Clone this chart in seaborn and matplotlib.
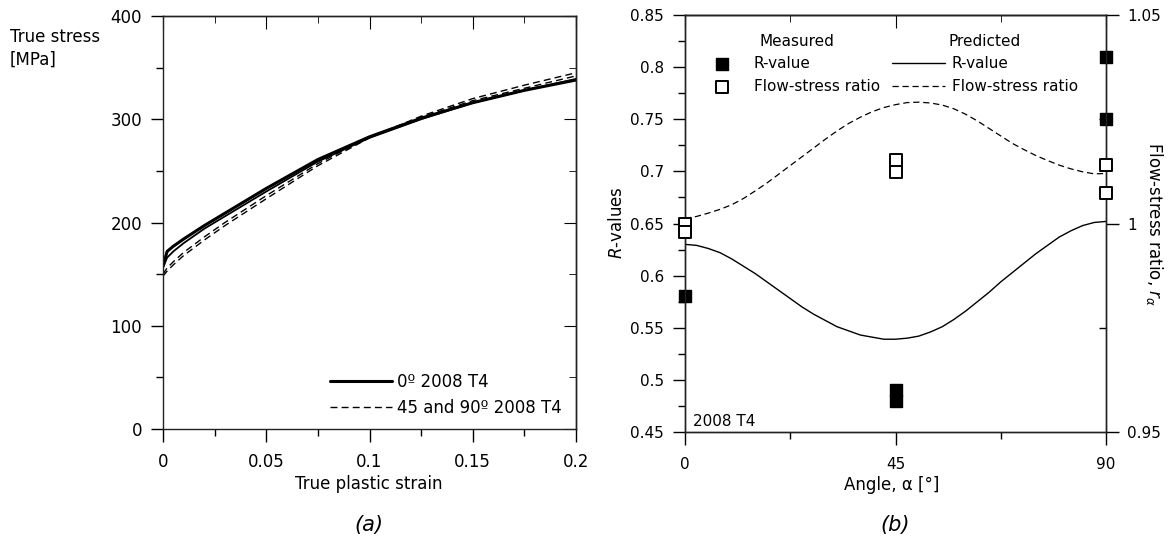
import matplotlib
matplotlib.use("Agg")
import matplotlib.pyplot as plt
import seaborn as sns
from matplotlib.ticker import MultipleLocator, FuncFormatter, NullFormatter

# (a) stress-strain curves
strain = [0, 0.002, 0.005, 0.01, 0.02, 0.03, 0.04, 0.05, 0.075, 0.1, 0.125, 0.15, 0.175, 0.2]
stress_0_a = [158, 172, 177, 184, 197, 209, 221, 233, 261, 283, 301, 316, 328, 338]
stress_0_b = [156, 166, 172, 180, 194, 206, 218, 230, 259, 282, 300, 316, 328, 339]
stress_45 = [148, 153, 159, 168, 183, 197, 210, 223, 255, 282, 303, 320, 333, 345]
stress_90 = [150, 156, 162, 171, 186, 200, 213, 226, 257, 283, 302, 318, 330, 342]

# (b) anisotropy
angles = [0, 2.5, 5, 7.5, 10, 12.5, 15, 17.5, 20, 22.5, 25, 27.5, 30, 32.5, 35, 37.5, 40, 42.5, 45,
          47.5, 50, 52.5, 55, 57.5, 60, 62.5, 65, 67.5, 70, 72.5, 75, 77.5, 80, 82.5, 85, 87.5, 90]
r_pred = [0.630, 0.629, 0.626, 0.622, 0.616, 0.609, 0.602, 0.594, 0.586, 0.578, 0.570, 0.563,
          0.557, 0.551, 0.547, 0.543, 0.541, 0.539, 0.539, 0.540, 0.542, 0.546, 0.551, 0.558,
          0.566, 0.575, 0.584, 0.594, 0.603, 0.612, 0.621, 0.629, 0.637, 0.643, 0.648, 0.651, 0.652]
flow_pred = [1.0012, 1.0017, 1.0025, 1.0034, 1.0045, 1.0060, 1.0078, 1.0097, 1.0118, 1.0139,
             1.0160, 1.0181, 1.0202, 1.0222, 1.0240, 1.0255, 1.0268, 1.0278, 1.0285, 1.0290,
             1.0291, 1.0289, 1.0284, 1.0275, 1.0262, 1.0246, 1.0228, 1.0210, 1.0192, 1.0177,
             1.0163, 1.0151, 1.0140, 1.0131, 1.0124, 1.0119, 1.0120]
meas_angle_r = [0, 45, 45, 90, 90]
meas_r = [0.58, 0.49, 0.48, 0.81, 0.75]
meas_angle_f = [0, 0, 45, 45, 90, 90]
meas_f = [1.0000, 0.9980, 1.0152, 1.0124, 1.0141, 1.0073]

sns.set_style("ticks")
plt.rcParams["font.family"] = ["DejaVu Sans"]
plt.rcParams["axes.linewidth"] = 1.0
plt.rcParams["axes.edgecolor"] = "#222222"
plt.rcParams["text.color"] = "black"
plt.rcParams["xtick.color"] = "black"
plt.rcParams["ytick.color"] = "black"
plt.rcParams["axes.labelcolor"] = "black"

W, H = 1169, 543
fig = plt.figure(figsize=(W / 100, H / 100), dpi=100)

def box(x0, y0, x1, y1):
    return [x0 / W, 1 - y1 / H, (x1 - x0) / W, (y1 - y0) / H]

fmt = FuncFormatter(lambda v, p: f"{v:g}")

# ---------------- panel (a) ----------------
ax1 = fig.add_axes(box(163, 16, 576, 429))
sns.lineplot(x=strain, y=stress_0_a, ax=ax1, color="black", lw=2.2, label="0º 2008 T4", legend=False)
sns.lineplot(x=strain, y=stress_0_b, ax=ax1, color="black", lw=1.3, legend=False)
sns.lineplot(x=strain, y=stress_45, ax=ax1, color="black", lw=1.0, linestyle=(0, (5, 3)),
             label="45 and 90º 2008 T4", legend=False)
sns.lineplot(x=strain, y=stress_90, ax=ax1, color="black", lw=1.0, linestyle=(0, (5, 3)), legend=False)
ax1.set_xlim(0, 0.2)
ax1.set_ylim(0, 400)
ax1.xaxis.set_major_locator(MultipleLocator(0.05))
ax1.xaxis.set_minor_locator(MultipleLocator(0.025))
ax1.yaxis.set_major_locator(MultipleLocator(100))
ax1.yaxis.set_minor_locator(MultipleLocator(50))
ax1.xaxis.set_major_formatter(fmt)
ax1.yaxis.set_major_formatter(fmt)
ax1.tick_params(which="major", direction="out", length=9, width=1, labelsize=12, pad=6)
ax1.tick_params(which="minor", direction="out", length=5, width=1)
ax1.tick_params(axis="x", pad=8)
ax1.set_xlabel("")
ax1.set_ylabel("")

top1 = ax1.secondary_xaxis("top")
top1.xaxis.set_major_locator(MultipleLocator(0.05))
top1.xaxis.set_minor_locator(MultipleLocator(0.025))
top1.xaxis.set_major_formatter(NullFormatter())
top1.tick_params(which="major", direction="in", length=9)
top1.tick_params(which="minor", direction="in", length=5)
right1 = ax1.secondary_yaxis("right")
right1.yaxis.set_major_locator(MultipleLocator(100))
right1.yaxis.set_minor_locator(MultipleLocator(50))
right1.yaxis.set_major_formatter(NullFormatter())
right1.tick_params(which="major", direction="in", length=9)
right1.tick_params(which="minor", direction="in", length=5)

h1, l1 = ax1.get_legend_handles_labels()
ax1.legend(h1, l1, loc="lower right", bbox_to_anchor=(0.965, 0.03), frameon=False,
           fontsize=12, handlelength=3.7, handletextpad=0.3, borderpad=0, borderaxespad=0,
           labelspacing=0.45)

fig.text(10 / W, 1 - 28 / H, "True stress\n[MPa]", ha="left", va="top", fontsize=12, linespacing=1.35)
fig.text(369 / W, 1 - 484 / H, "True plastic strain", ha="center", va="center", fontsize=12)
fig.text(369 / W, 1 - 525 / H, "(a)", ha="center", va="center", fontsize=15, style="italic")

# ---------------- panel (b) ----------------
ax = fig.add_axes(box(685, 15, 1106, 432))
ax2 = ax.twinx()
sns.lineplot(x=angles, y=r_pred, ax=ax, color="black", lw=1.0, label="R-value", legend=False)
sns.scatterplot(x=meas_angle_r, y=meas_r, ax=ax, marker="s", s=75, color="black",
                edgecolor="black", linewidth=1, clip_on=False, zorder=5, label="R-value", legend=False)
sns.lineplot(x=angles, y=flow_pred, ax=ax2, color="black", lw=0.9, linestyle=(0, (5, 3)),
             label="Flow-stress ratio", legend=False)
sns.scatterplot(x=meas_angle_f, y=meas_f, ax=ax2, marker="s", s=70, facecolor="white",
                edgecolor="black", linewidth=1.4, clip_on=False, zorder=5,
                label="Flow-stress ratio", legend=False)

ax.set_xlim(0, 90)
ax.set_ylim(0.45, 0.85)
ax2.set_ylim(0.95, 1.05)
ax.set_xticks([0, 45, 90])
ax.xaxis.set_minor_locator(MultipleLocator(22.5))
ax.yaxis.set_major_locator(MultipleLocator(0.05))
ax.yaxis.set_minor_locator(MultipleLocator(0.025))
ax.yaxis.set_major_formatter(fmt)
ax2.yaxis.set_major_locator(MultipleLocator(0.05))
ax2.yaxis.set_minor_locator(MultipleLocator(0.025))
ax2.yaxis.set_major_formatter(fmt)
ax.tick_params(which="major", direction="out", length=9, width=1, labelsize=11, pad=6)
ax.tick_params(which="minor", direction="out", length=5, width=1)
ax.tick_params(axis="x", pad=9)
ax2.tick_params(which="major", direction="out", length=9, width=1, labelsize=11, pad=6)
ax2.tick_params(which="minor", direction="in", length=5, width=1)
top2 = ax.secondary_xaxis("top")
top2.set_xticks([0, 45, 90])
top2.xaxis.set_minor_locator(MultipleLocator(22.5))
top2.xaxis.set_major_formatter(NullFormatter())
top2.tick_params(which="major", direction="in", length=9)
top2.tick_params(which="minor", direction="in", length=5)
ax.set_xlabel("")
ax.set_ylabel("")
ax2.set_ylabel("")

ha, la = ax.get_legend_handles_labels()
hb, lb = ax2.get_legend_handles_labels()
leg_m = ax2.legend([ha[1], hb[1]], [la[1], lb[1]], title="Measured", loc="upper left",
                   bbox_to_anchor=(0.069, 0.955), frameon=False, fontsize=11, title_fontsize=11,
                   handlelength=1.0, handletextpad=1.6, borderpad=0, borderaxespad=0,
                   labelspacing=0.5)
ax2.add_artist(leg_m)
ax2.legend([ha[0], hb[0]], [la[0], lb[0]], title="Predicted", loc="upper left",
           bbox_to_anchor=(0.492, 0.955), frameon=False, fontsize=11, title_fontsize=11,
           handlelength=3.45, handletextpad=0.45, borderpad=0, borderaxespad=0,
           labelspacing=0.5)

ax.text(693 / W, 1 - 422 / H, "2008 T4", transform=fig.transFigure, ha="left", va="center", fontsize=11)
fig.text(617 / W, 1 - 223 / H, "$R$-values", rotation=90, ha="center", va="center", fontsize=12)
fig.text(1155 / W, 1 - 224 / H, r"Flow-stress ratio, $r_\alpha$", rotation=270,
         ha="center", va="center", fontsize=12)
fig.text(892 / W, 1 - 485 / H, "Angle, α [°]", ha="center", va="center", fontsize=12)
fig.text(895 / W, 1 - 525 / H, "(b)", ha="center", va="center", fontsize=15, style="italic")

fig.savefig("out.png", dpi=100)
